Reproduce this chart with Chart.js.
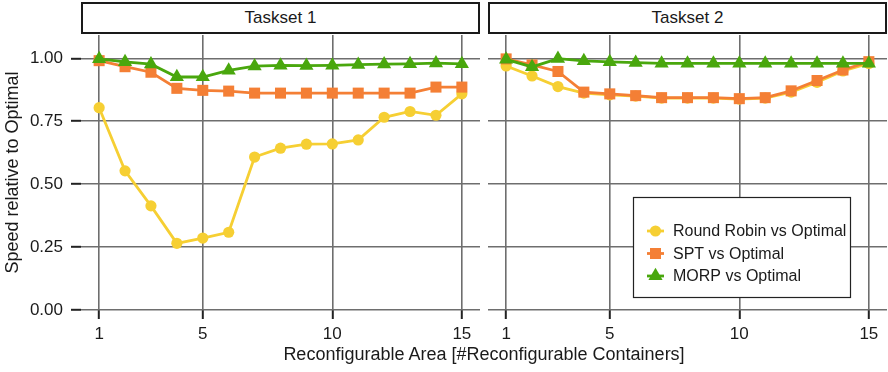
<!DOCTYPE html>
<html>
<head>
<meta charset="utf-8">
<script src="https://cdn.jsdelivr.net/npm/chart.js@4/dist/chart.umd.min.js"></script>
<style>
  body { margin: 0; background: #fff; }
  #wrap { position: relative; width: 888px; height: 372px; overflow: hidden;
          font-family: "Liberation Sans", Arial, Helvetica, sans-serif; color: #1a1a1a; }
  canvas { position: absolute; top: 0; }
  .strip { position: absolute; top: 2px; height: 32px; box-sizing: border-box;
           border: 2px solid #1a1a1a; background: #fff; text-align: center;
           font-size: 17px; line-height: 28px; }
  #xtitle { position: absolute; left: 81px; width: 806px; top: 343px; text-align: center;
            font-size: 18px; line-height: 22px; }
</style>
</head>
<body>
<div id="wrap">
  <canvas id="panel1" width="480" height="372" style="left:0"></canvas>
  <canvas id="panel2" width="407" height="372" style="left:480px"></canvas>
  <div class="strip" style="left:81px;width:399px">Taskset 1</div>
  <div class="strip" style="left:488px;width:399px">Taskset 2</div>
  <div id="xtitle">Reconfigurable Area [#Reconfigurable Containers]</div>
</div>
<script>
// Number of reconfigurable containers on the x axis
const areas = [1, 2, 3, 4, 5, 6, 7, 8, 9, 10, 11, 12, 13, 14, 15];
const xTicks = [1, 5, 10, 15];
const yTicks = [0, 0.25, 0.5, 0.75, 1.0];

const panelTitles = ['Taskset 1', 'Taskset 2'];
const seriesNames = ['Round Robin vs Optimal', 'SPT vs Optimal', 'MORP vs Optimal'];

// Speed relative to the optimal schedule, Taskset 1
const roundRobinTaskset1 = [0.804, 0.553, 0.414, 0.265, 0.286, 0.309, 0.608, 0.643, 0.659, 0.660, 0.676, 0.766, 0.789, 0.774, 0.859];
const sptTaskset1        = [0.991, 0.967, 0.945, 0.881, 0.873, 0.870, 0.862, 0.862, 0.862, 0.862, 0.862, 0.862, 0.862, 0.886, 0.886];
const morpTaskset1       = [0.998, 0.986, 0.977, 0.926, 0.926, 0.952, 0.969, 0.972, 0.971, 0.972, 0.975, 0.977, 0.978, 0.981, 0.978];

// Speed relative to the optimal schedule, Taskset 2
const roundRobinTaskset2 = [0.970, 0.930, 0.888, 0.862, 0.855, 0.850, 0.842, 0.842, 0.842, 0.838, 0.842, 0.866, 0.905, 0.950, 0.980];
const sptTaskset2        = [0.998, 0.974, 0.948, 0.866, 0.859, 0.852, 0.844, 0.844, 0.844, 0.840, 0.844, 0.871, 0.912, 0.954, 0.987];
const morpTaskset2       = [0.996, 0.966, 0.999, 0.990, 0.986, 0.983, 0.980, 0.980, 0.980, 0.980, 0.980, 0.980, 0.980, 0.980, 0.980];

const seriesColors = ['#f6cf33', '#f47f35', '#49a70d'];
const seriesMarkers = ['circle', 'rect', 'triangle'];
const markerRadius = [5.6, 7.8, 8.2];

const FONT = '"Liberation Sans", Arial, Helvetica, sans-serif';
const TEXT = '#1a1a1a';
const GRID = '#6e6e6e';

function points(values) {
  return areas.map((a, i) => ({ x: a, y: values[i] }));
}

function buildDatasets(seriesValues) {
  return seriesValues.map((vals, i) => ({
    label: seriesNames[i],
    data: points(vals),
    borderColor: seriesColors[i],
    backgroundColor: seriesColors[i],
    pointBackgroundColor: seriesColors[i],
    pointBorderWidth: 0,
    pointStyle: seriesMarkers[i],
    pointRadius: markerRadius[i],
    borderWidth: 2.8,
    tension: 0,
    order: 3 - i,
    clip: false
  }));
}

function drawMarker(ctx, style, r, x, y) {
  ctx.beginPath();
  if (style === 'circle') {
    ctx.arc(x, y, r, 0, Math.PI * 2);
  } else if (style === 'rect') {
    const s = Math.SQRT1_2 * r;
    ctx.rect(x - s, y - s, 2 * s, 2 * s);
  } else {
    for (let k = 0; k < 3; k++) {
      const a = k * 2 * Math.PI / 3;
      const px = x + Math.sin(a) * r, py = y - Math.cos(a) * r;
      if (k === 0) ctx.moveTo(px, py); else ctx.lineTo(px, py);
    }
    ctx.closePath();
  }
  ctx.fill();
}

// Boxed legend inside the second panel
const insetLegend = {
  id: 'insetLegend',
  afterDatasetsDraw(chart) {
    const ctx = chart.ctx;
    const area = chart.chartArea;
    const left = area.left + 145, top = 197, w = 217, h = 100;
    ctx.save();
    ctx.fillStyle = '#fff';
    ctx.fillRect(left, top, w, h);
    ctx.strokeStyle = '#222';
    ctx.lineWidth = 1.2;
    ctx.strokeRect(left + 0.5, top + 0.5, w, h);
    ctx.font = '16px ' + FONT;
    ctx.textBaseline = 'middle';
    seriesNames.forEach((name, i) => {
      const y = top + 34 + i * 22.5;
      ctx.strokeStyle = seriesColors[i];
      ctx.fillStyle = seriesColors[i];
      ctx.lineWidth = 2.8;
      ctx.beginPath();
      ctx.moveTo(left + 14, y);
      ctx.lineTo(left + 31, y);
      ctx.stroke();
      drawMarker(ctx, seriesMarkers[i], markerRadius[i], left + 22.5, y);
      ctx.fillStyle = TEXT;
      ctx.fillText(name, left + 40, y + 1);
    });
    ctx.restore();
  }
};

function makePanel(canvasId, seriesValues, isLeft) {
  return new Chart(document.getElementById(canvasId), {
    type: 'line',
    data: { datasets: buildDatasets(seriesValues) },
    plugins: isLeft ? [] : [insetLegend],
    options: {
      responsive: false,
      animation: false,
      devicePixelRatio: 1,
      layout: { autoPadding: false, padding: { top: 35, left: 0, right: 0, bottom: 0 } },
      plugins: { legend: { display: false }, tooltip: { enabled: false }, title: { display: false } },
      scales: {
        x: {
          type: 'linear',
          min: 0.3,
          max: 15.7,
          afterBuildTicks: s => { s.ticks = xTicks.map(v => ({ value: v })); },
          afterFit: s => { s.height = 62; s.paddingLeft = 0; s.paddingRight = 0; },
          border: { display: false },
          grid: { color: GRID, lineWidth: 1.6, tickLength: 9, tickColor: '#222', tickWidth: 2 },
          ticks: { color: TEXT, font: { size: 17, family: FONT }, padding: 5,
                   maxRotation: 0, autoSkip: false, callback: v => String(v) }
        },
        y: {
          type: 'linear',
          min: 0,
          max: 1.093,
          afterBuildTicks: s => { s.ticks = yTicks.map(v => ({ value: v })); },
          afterFit: s => { s.width = isLeft ? 81 : 8; s.paddingTop = 0; s.paddingBottom = 0; },
          border: { display: false },
          grid: { color: GRID, lineWidth: 1.6, drawTicks: isLeft, tickLength: 10,
                  tickColor: '#222', tickWidth: 2 },
          ticks: { display: isLeft, color: TEXT, font: { size: 17, family: FONT }, padding: 8,
                   callback: v => v.toFixed(2) },
          title: { display: isLeft, text: 'Speed relative to Optimal', color: TEXT,
                   font: { size: 18, family: FONT }, padding: { top: 2, bottom: 0 } }
        }
      }
    }
  });
}

makePanel('panel1', [roundRobinTaskset1, sptTaskset1, morpTaskset1], true);
makePanel('panel2', [roundRobinTaskset2, sptTaskset2, morpTaskset2], false);
</script>
</body>
</html>
